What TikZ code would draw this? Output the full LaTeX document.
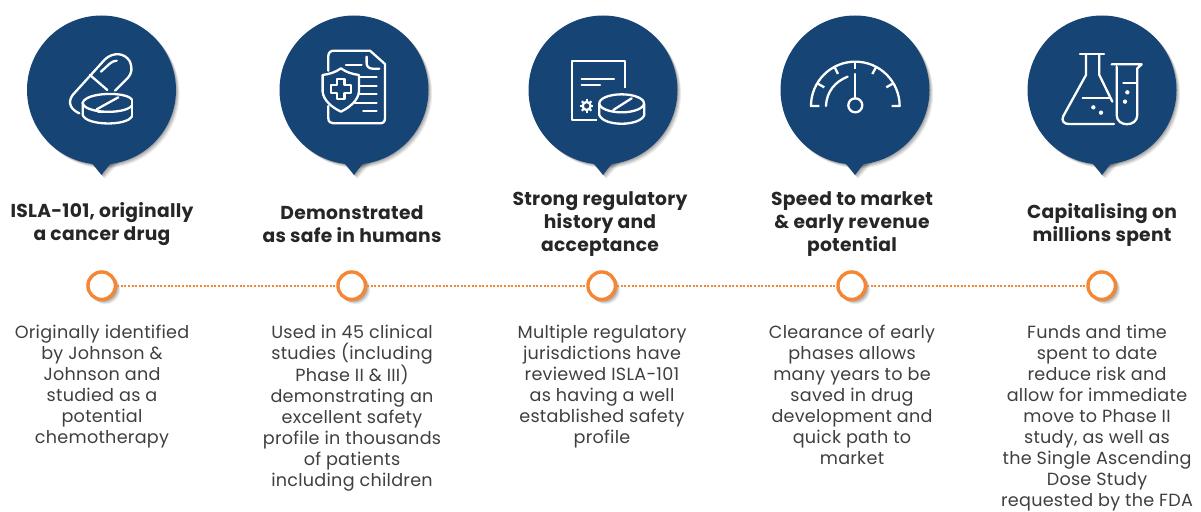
\documentclass[tikz,border=0pt]{standalone}
\usepackage{fontspec}
\setmainfont{Poppins}[LetterSpace=1.5]
\usetikzlibrary{calc}
\definecolor{navy}{HTML}{164475}
\definecolor{orangec}{HTML}{F58634}
\definecolor{bodytxt}{HTML}{3F3F3F}
\definecolor{titletxt}{HTML}{262626}
\tikzset{
 bubble/.style={circle,fill=navy,minimum size=149pt,inner sep=0pt},
 ic/.style={draw=white,line width=2.3pt,line cap=round,line join=round,fill=none},
 dotc/.style={circle,fill=white,draw=orangec,line width=3.4pt,minimum size=27.5pt,inner sep=0pt},
 link/.style={draw=orangec,line width=2pt,dash pattern=on 2pt off 1.6pt},
 ttl/.style={font=\fontsize{18.7}{23}\selectfont\bfseries,text=titletxt,align=center,anchor=center},
 bdy/.style={font=\fontsize{17.6}{21.1}\selectfont,text=bodytxt,align=center,anchor=north,inner sep=0pt},
}
\newcommand{\dropshade}[3]{% x y r
 \foreach \o/\a in {1/.10,2/.10,3/.10,4/.08,5/.06}{
  \fill[black,opacity=\a] ({#1+\o*0.8},{#2+\o*0.8}) circle ({#3});
 }}
\newcommand{\bub}[2]{%
 \foreach \o/\a in {1/.12,2/.10,3/.09,4/.07}{
  \fill[black,opacity=\a] ({#1+\o*0.9},{90+\o*0.9}) circle (74.5);
  \fill[black,opacity=\a] ({#1-15+\o*0.9},{158+\o*0.9}) -- ({#1+\o*0.9},{175+\o*0.9}) -- ({#1+15+\o*0.9},{158+\o*0.9}) -- cycle;
 }
 \node[bubble] (#2) at (#1,90) {};
 \fill[navy] ({#1-16},157) .. controls ({#1-12},160) and ({#1-10},162) .. (#1,175) .. controls ({#1+10},162) and ({#1+12},160) .. ({#1+16},157) -- cycle;
}
\begin{document}
\begin{tikzpicture}[x=1pt,y=-1pt]
\useasboundingbox (0,0) rectangle (1201,511);
\bub{101.5}{b1}
\bub{354}{b2}
\bub{603}{b3}
\bub{855}{b4}
\bub{1102}{b5}

% icon 1
\begin{scope}[x=0.3333pt,y=-0.3333pt]
 \draw[ic] (238,340) .. controls (215,330) and (200,310) .. (218,285) -- (315,178) .. controls (340,155) and (375,158) .. (390,185) .. controls (398,205) and (395,220) .. (385,232) -- (345,272);
 \draw[ic] (270,225) -- (322,270);
 \draw[ic] (303,215) -- (328,192) .. controls (335,185) and (342,183) .. (350,182);
 \draw[ic] (395,298) .. controls (380,275) and (260,275) .. (248,308) .. controls (250,340) and (370,345) .. (395,318);
 \draw[ic] (248,308) -- (248,345) .. controls (260,378) and (380,378) .. (395,350);
 \draw[ic] (395,298) -- (395,350);
 \draw[ic] (290,328) -- (355,292);
 \draw[ic] (295,336) -- (340,336);
\end{scope}
% icon 2
\begin{scope}[x=0.3333pt,y=-0.3333pt]
 \draw[ic] (985,212) -- (985,168) .. controls (985,158) and (992,152) .. (1002,152) -- (1110,152) -- (1155,192) -- (1155,355) .. controls (1155,365) and (1150,370) .. (1140,370) -- (1000,370) .. controls (992,370) and (985,365) .. (985,355) -- (985,318);
 \draw[ic] (1100,170) -- (1100,190) .. controls (1100,200) and (1108,206) .. (1118,206) -- (1138,206);
 \draw[ic] (1038,195) -- (1085,195);
 \draw[ic] (1075,232) -- (1130,232);
 \draw[ic] (1080,257) -- (1130,257);
 \draw[ic] (1075,283) -- (1130,283);
 \draw[ic] (1065,308) -- (1130,308);
 \draw[ic] (1090,333) -- (1130,333);
 \draw[ic,fill=navy] (1023,205) .. controls (1005,218) and (988,222) .. (968,225) -- (968,275) .. controls (970,300) and (995,322) .. (1023,335) .. controls (1050,322) and (1075,300) .. (1077,275) -- (1077,225) .. controls (1058,222) and (1040,218) .. (1023,205) -- cycle;
 \draw[ic] (1012,238) -- (1034,238) -- (1034,256) -- (1053,256) -- (1053,279) -- (1034,279) -- (1034,296) -- (1012,296) -- (1012,279) -- (993,279) -- (993,256) -- (1012,256) -- cycle;
\end{scope}
% icon 3
\begin{scope}[x=0.3333pt,y=-0.3333pt,xshift=500pt]
 \draw[ic,line cap=butt] (375,265) -- (375,182) -- (215,182) -- (215,360) -- (290,360);
 \draw[ic] (245,237) -- (342,237);
 \draw[ic] (245,255) -- (300,255);
 \draw[ic] (260,318) circle (12);
 \foreach \t in {0,45,...,315}{\draw[white,line width=2.2pt] ($(260,318)+(\t:12)$) -- ($(260,318)+(\t:20)$);}
 \draw[ic] (365,310) ellipse (67 and 27);
 \draw[ic] (298,312) -- (298,345) .. controls (310,380) and (420,380) .. (433,345) -- (433,312);
 \draw[ic] (340,330) -- (395,295);
 \draw[ic] (345,336) -- (385,336);
\end{scope}
% icon 4
\begin{scope}[x=0.3333pt,y=-0.3333pt,xshift=500pt]
 \draw[ic,line cap=butt] (958,318) -- (933,318) arc[start angle=180,end angle=360,radius=133] -- (1175,318);
 \draw[ic,line cap=butt] (1066,185) -- (1066,208);
 \draw[ic,line cap=butt] (1004,202) -- (1014,222);
 \draw[ic,line cap=butt] (1128,202) -- (1117,222);
 \draw[ic,line cap=butt] (952,250) -- (973,262);
 \draw[ic,line cap=butt] (1180,250) -- (1159,262);
 \draw[ic] (978,318) .. controls (980,275) and (1005,245) .. (1043,230);
 \draw[ic] (1066,222) -- (1066,295);
 \draw[ic] (1066,316) circle (21);
\end{scope}
% icon 5
\begin{scope}[x=0.3333pt,y=-0.3333pt,xshift=1000pt]
 \draw[ic] (240,163) -- (312,163);
 \draw[ic] (258,163) -- (258,225) -- (190,348) .. controls (183,362) and (192,372) .. (205,372) -- (342,372);
 \draw[ic] (298,163) -- (298,225) -- (337,305);
 \draw[ic] (248,295) -- (330,295);
 \fill[white] (280,322) circle (6.5) (303,338) circle (6.5);
 \draw[ic] (335,193) -- (425,193) -- (412,205) -- (412,345) .. controls (412,382) and (350,382) .. (350,345) -- (350,200);
 \draw[ic] (370,248) -- (410,248);
 \fill[white] (382,277) circle (6.5) (375,305) circle (6.5);
\end{scope}

% timeline
\dropshade{101.7}{285.7}{14.5}
\dropshade{351.7}{285.7}{14.5}
\dropshade{601.7}{285.7}{14.5}
\dropshade{851.7}{285.7}{14.5}
\dropshade{1101.7}{285.7}{14.5}
\node[dotc] (d1) at (101.7,285.7) {};
\node[dotc] (d2) at (351.7,285.7) {};
\node[dotc] (d3) at (601.7,285.7) {};
\node[dotc] (d4) at (851.7,285.7) {};
\node[dotc] (d5) at (1101.7,285.7) {};
\draw[link] (d1) -- (d2);
\draw[link] (d2) -- (d3);
\draw[link] (d3) -- (d4);
\draw[link] (d4) -- (d5);

% titles
\node[ttl] (t1) at (102,224.5) {ISLA-101, originally\\a cancer drug};
\node[ttl] (t2) at (352,224) {Demonstrated\\as safe in humans};
\node[ttl] (t3) at (600,224.5) {Strong regulatory\\history and\\acceptance};
\node[ttl] (t4) at (852,224.5) {Speed to market\\\& early revenue\\potential};
\node[ttl] (t5) at (1102,224.5) {Capitalising on\\millions spent};

% bodies
\node[bdy] (x1) at (102,324.5) {Originally identified\\by Johnson \&\\Johnson and\\studied as a\\potential\\chemotherapy};
\node[bdy] (x2) at (352,324.5) {Used in 45 clinical\\studies (including\\Phase II \& III)\\demonstrating an\\excellent safety\\profile in thousands\\of patients\\including children};
\node[bdy] (x3) at (602,324.5) {Multiple regulatory\\jurisdictions have\\reviewed ISLA-101\\as having a well\\established safety\\profile};
\node[bdy] (x4) at (852,324.5) {Clearance of early\\phases allows\\many years to be\\saved in drug\\development and\\quick path to\\market};
\node[bdy] (x5) at (1097,324.5) {Funds and time\\spent to date\\reduce risk and\\allow for immediate\\move to Phase II\\study, as well as\\the Single Ascending\\Dose Study\\requested by the FDA};
\end{tikzpicture}
\end{document}
